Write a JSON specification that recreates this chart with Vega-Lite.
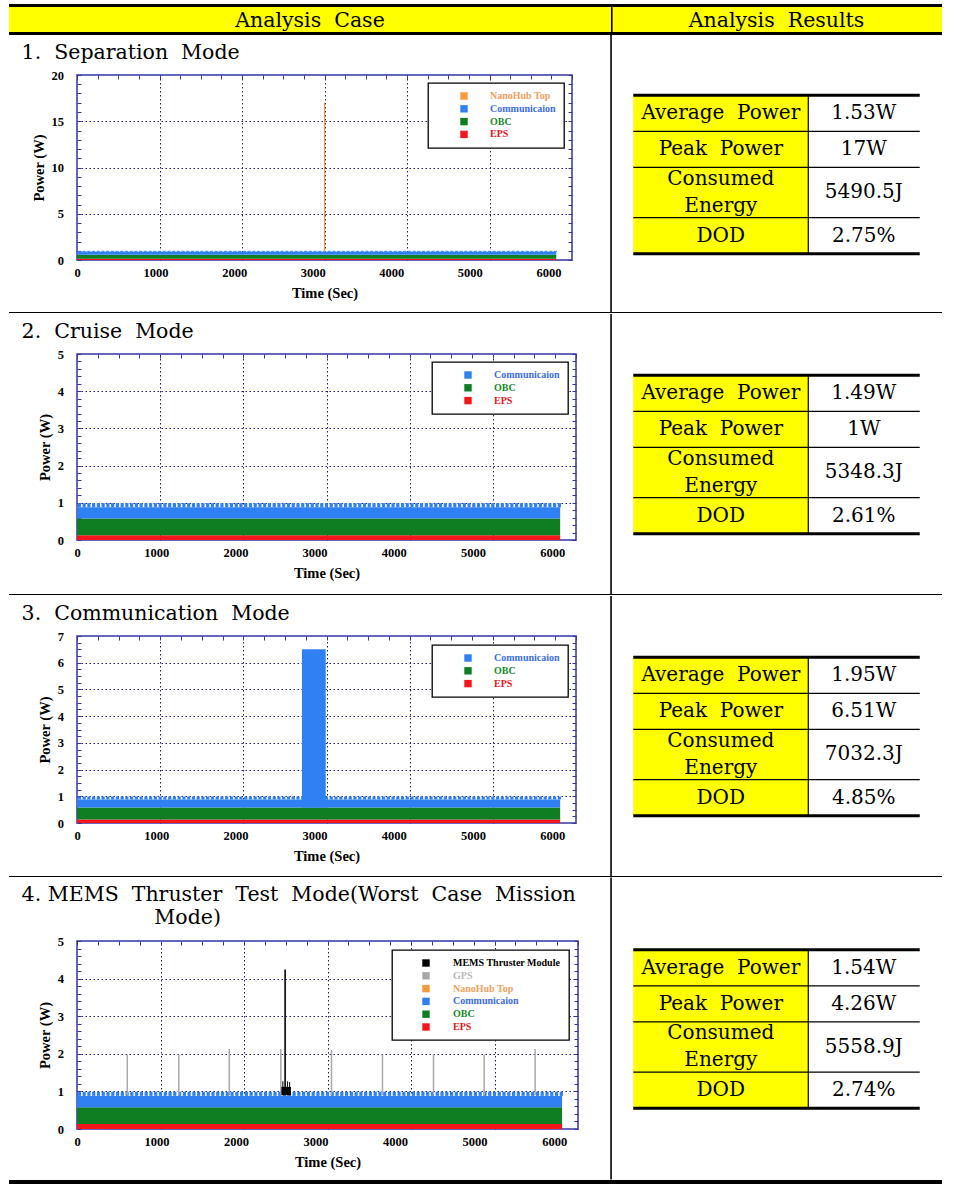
{
  "$schema": "https://vega.github.io/schema/vega-lite/v6.json",
  "padding": {"left": 8, "top": 4, "right": 0, "bottom": 0},
  "background": "white",
  "columns": 1,
  "spacing": 0,
  "resolve": {"scale": {"color": "independent"}, "legend": {"color": "independent"}},
  "datasets": {
    "base": [
      {"device": "EPS", "t0": 0, "t1": 6100, "lo": 0, "hi": 0.13},
      {"device": "OBC", "t0": 0, "t1": 6100, "lo": 0.13, "hi": 0.58},
      {"device": "Communicaion", "t0": 0, "t1": 6100, "lo": 0.58, "hi": 0.88}
    ],
    "teeth": [
      {"t":30,"lo":0.88,"hi":0.99},{"t":90,"lo":0.88,"hi":0.99},{"t":150,"lo":0.88,"hi":0.99},{"t":210,"lo":0.88,"hi":0.99},{"t":270,"lo":0.88,"hi":0.99},{"t":330,"lo":0.88,"hi":0.99},{"t":390,"lo":0.88,"hi":0.99},{"t":450,"lo":0.88,"hi":0.99},{"t":510,"lo":0.88,"hi":0.99},{"t":570,"lo":0.88,"hi":0.99},
      {"t":630,"lo":0.88,"hi":0.99},{"t":690,"lo":0.88,"hi":0.99},{"t":750,"lo":0.88,"hi":0.99},{"t":810,"lo":0.88,"hi":0.99},{"t":870,"lo":0.88,"hi":0.99},{"t":930,"lo":0.88,"hi":0.99},{"t":990,"lo":0.88,"hi":0.99},{"t":1050,"lo":0.88,"hi":0.99},{"t":1110,"lo":0.88,"hi":0.99},{"t":1170,"lo":0.88,"hi":0.99},
      {"t":1230,"lo":0.88,"hi":0.99},{"t":1290,"lo":0.88,"hi":0.99},{"t":1350,"lo":0.88,"hi":0.99},{"t":1410,"lo":0.88,"hi":0.99},{"t":1470,"lo":0.88,"hi":0.99},{"t":1530,"lo":0.88,"hi":0.99},{"t":1590,"lo":0.88,"hi":0.99},{"t":1650,"lo":0.88,"hi":0.99},{"t":1710,"lo":0.88,"hi":0.99},{"t":1770,"lo":0.88,"hi":0.99},
      {"t":1830,"lo":0.88,"hi":0.99},{"t":1890,"lo":0.88,"hi":0.99},{"t":1950,"lo":0.88,"hi":0.99},{"t":2010,"lo":0.88,"hi":0.99},{"t":2070,"lo":0.88,"hi":0.99},{"t":2130,"lo":0.88,"hi":0.99},{"t":2190,"lo":0.88,"hi":0.99},{"t":2250,"lo":0.88,"hi":0.99},{"t":2310,"lo":0.88,"hi":0.99},{"t":2370,"lo":0.88,"hi":0.99},
      {"t":2430,"lo":0.88,"hi":0.99},{"t":2490,"lo":0.88,"hi":0.99},{"t":2550,"lo":0.88,"hi":0.99},{"t":2610,"lo":0.88,"hi":0.99},{"t":2670,"lo":0.88,"hi":0.99},{"t":2730,"lo":0.88,"hi":0.99},{"t":2790,"lo":0.88,"hi":0.99},{"t":2850,"lo":0.88,"hi":0.99},{"t":2910,"lo":0.88,"hi":0.99},{"t":2970,"lo":0.88,"hi":0.99},
      {"t":3030,"lo":0.88,"hi":0.99},{"t":3090,"lo":0.88,"hi":0.99},{"t":3150,"lo":0.88,"hi":0.99},{"t":3210,"lo":0.88,"hi":0.99},{"t":3270,"lo":0.88,"hi":0.99},{"t":3330,"lo":0.88,"hi":0.99},{"t":3390,"lo":0.88,"hi":0.99},{"t":3450,"lo":0.88,"hi":0.99},{"t":3510,"lo":0.88,"hi":0.99},{"t":3570,"lo":0.88,"hi":0.99},
      {"t":3630,"lo":0.88,"hi":0.99},{"t":3690,"lo":0.88,"hi":0.99},{"t":3750,"lo":0.88,"hi":0.99},{"t":3810,"lo":0.88,"hi":0.99},{"t":3870,"lo":0.88,"hi":0.99},{"t":3930,"lo":0.88,"hi":0.99},{"t":3990,"lo":0.88,"hi":0.99},{"t":4050,"lo":0.88,"hi":0.99},{"t":4110,"lo":0.88,"hi":0.99},{"t":4170,"lo":0.88,"hi":0.99},
      {"t":4230,"lo":0.88,"hi":0.99},{"t":4290,"lo":0.88,"hi":0.99},{"t":4350,"lo":0.88,"hi":0.99},{"t":4410,"lo":0.88,"hi":0.99},{"t":4470,"lo":0.88,"hi":0.99},{"t":4530,"lo":0.88,"hi":0.99},{"t":4590,"lo":0.88,"hi":0.99},{"t":4650,"lo":0.88,"hi":0.99},{"t":4710,"lo":0.88,"hi":0.99},{"t":4770,"lo":0.88,"hi":0.99},
      {"t":4830,"lo":0.88,"hi":0.99},{"t":4890,"lo":0.88,"hi":0.99},{"t":4950,"lo":0.88,"hi":0.99},{"t":5010,"lo":0.88,"hi":0.99},{"t":5070,"lo":0.88,"hi":0.99},{"t":5130,"lo":0.88,"hi":0.99},{"t":5190,"lo":0.88,"hi":0.99},{"t":5250,"lo":0.88,"hi":0.99},{"t":5310,"lo":0.88,"hi":0.99},{"t":5370,"lo":0.88,"hi":0.99},
      {"t":5430,"lo":0.88,"hi":0.99},{"t":5490,"lo":0.88,"hi":0.99},{"t":5550,"lo":0.88,"hi":0.99},{"t":5610,"lo":0.88,"hi":0.99},{"t":5670,"lo":0.88,"hi":0.99},{"t":5730,"lo":0.88,"hi":0.99},{"t":5790,"lo":0.88,"hi":0.99},{"t":5850,"lo":0.88,"hi":0.99},{"t":5910,"lo":0.88,"hi":0.99},{"t":5970,"lo":0.88,"hi":0.99},
      {"t":6030,"lo":0.88,"hi":0.99},{"t":6090,"lo":0.88,"hi":0.99}
    ]
  },
  "concat": [
    {"width": 865, "height": 3, "data": {"values": [{}]}, "mark": {"type": "rect", "color": "#000"},
     "encoding": {"x": {"datum": -0.078613, "type": "quantitative", "scale": {"domain": [0, 1], "nice": false, "zero": false}, "axis": null}, "x2": {"datum": 1},
                  "y": {"datum": 0, "type": "quantitative", "scale": {"domain": [0, 1], "nice": false}, "axis": null}, "y2": {"datum": 1}}},
    {"concat": [
      {"width": 534, "height": 25, "data": {"values": [{"h": "Analysis\u00a0 Case"}]},
       "layer": [
         {"mark": {"type": "rect", "color": "#ffff00"},
          "encoding": {"x": {"datum": -0.127341, "type": "quantitative", "scale": {"domain": [0, 1], "nice": false, "zero": false}, "axis": null}, "x2": {"datum": 1},
                       "y": {"datum": 0, "type": "quantitative", "scale": {"domain": [0, 1], "nice": false}, "axis": null}, "y2": {"datum": 1}}},
         {"mark": {"type": "text", "font": "DejaVu Serif", "fontSize": 20.5, "color": "#000", "dy": 1.5},
          "encoding": {"x": {"datum": 0.43633, "type": "quantitative"}, "y": {"datum": 0.5, "type": "quantitative"}, "text": {"field": "h", "type": "nominal"}}}
       ]},
      {"width": 331, "height": 25, "view": {"fill": "#ffff00"}, "data": {"values": [{"h": "Analysis\u00a0 Results"}]},
       "layer": [
         {"mark": {"type": "text", "font": "DejaVu Serif", "fontSize": 20.5, "color": "#000", "dy": 1.5},
          "encoding": {"x": {"datum": 0.5, "type": "quantitative", "scale": {"domain": [0, 1], "nice": false, "zero": false}, "axis": null}, "y": {"datum": 0.5, "type": "quantitative", "scale": {"domain": [0, 1], "nice": false}, "axis": null}, "text": {"field": "h", "type": "nominal"}}},
         {"mark": {"type": "rect", "color": "#000"},
          "encoding": {"x": {"datum": 0, "type": "quantitative"}, "x2": {"datum": 0.0048}, "y": {"datum": 0, "type": "quantitative"}, "y2": {"datum": 1}}}
       ]}
    ], "spacing": 0},
    {"width": 865, "height": 3, "data": {"values": [{}]}, "mark": {"type": "rect", "color": "#000"},
     "encoding": {"x": {"datum": -0.078613, "type": "quantitative", "scale": {"domain": [0, 1], "nice": false, "zero": false}, "axis": null}, "x2": {"datum": 1},
                  "y": {"datum": 0, "type": "quantitative", "scale": {"domain": [0, 1], "nice": false}, "axis": null}, "y2": {"datum": 1}}},

    {"concat": [
      {
        "width": 495, "height": 185,
        "view": {"stroke": "#3434a4", "strokeWidth": 1.5},
        "title": {"text": "\u00a0", "fontSize": 3, "anchor": "start", "frame": "group", "dx": -66, "offset": 6,
          "subtitle": "\u200b\u00a0\u20091.\u00a0 Separation\u00a0 Mode", "subtitleFont": "DejaVu Serif", "subtitleFontSize": 20.5, "subtitleColor": "#000", "subtitlePadding": 0},
        "resolve": {"axis": {"x": "independent", "y": "independent"}},
        "layer": [
          {"data": {"name": "base"}, "mark": {"type": "rect"},
           "encoding": {
             "x": {"field": "t0", "type": "quantitative", "scale": {"domain": [0, 6300], "nice": false, "zero": false},
                   "axis": {"orient": "bottom", "values": [0,1000,2000,3000,4000,5000,6000], "tickCount": 100, "format": "d", "ticks": false, "grid": false, "labelPadding": 6, "title": "Time (Sec)", "titlePadding": 8}},
             "x2": {"field": "t1"},
             "y": {"field": "lo", "type": "quantitative", "scale": {"domain": [0, 20], "nice": false},
                   "axis": {"orient": "left", "values": [0,1,2,3,4,5,6,7,8,9,10,11,12,13,14,15,16,17,18,19,20], "tickCount": 100,
                            "labelExpr": "abs(datum.value / 5 - round(datum.value / 5)) < 0.001 ? format(datum.value, 'd') : ''", "grid": true,
                            "gridOpacity": {"condition": {"test": "abs(datum.value / 5 - round(datum.value / 5)) < 0.001 && datum.value > 0.01 && datum.value < 19.99", "value": 1}, "value": 0},
                            "labelPadding": 17.5, "title": "Power (W)", "titlePadding": 5}},
             "y2": {"field": "hi"},
             "color": {"field": "device", "type": "nominal",
                       "scale": {"domain": ["NanoHub Top", "Communicaion", "OBC", "EPS"], "range": ["#f39a3c", "#2f80f2", "#0f7d22", "#f5161c"]},
                       "legend": {"title": null, "labelColor": {"expr": "datum.value === 'EPS' ? '#e3141b' : datum.value === 'OBC' ? '#168a2c' : datum.value === 'Communicaion' ? '#3a6ee0' : datum.value === 'NanoHub Top' ? '#f0a060' : datum.value === 'GPS' ? '#b8b8b8' : '#000000'"}}}
           }},
          {"data": {"name": "teeth"}, "mark": {"type": "rule", "strokeWidth": 3.2, "color": "#2f80f2"},
           "encoding": {
             "x": {"field": "t", "type": "quantitative",
                   "axis": {"orient": "top", "values": [0,262.5,525,787.5,1050,1312.5,1575,1837.5,2100,2362.5,2625,2887.5,3150,3412.5,3675,3937.5,4200,4462.5,4725,4987.5,5250,5512.5,5775,6037.5,6300], "tickCount": 100,
                            "labels": false, "title": null, "grid": true,
                            "gridOpacity": {"condition": {"test": "abs(datum.value / 1050 - round(datum.value / 1050)) < 0.001 && datum.value > 1 && datum.value < 6299", "value": 1}, "value": 0}}},
             "y": {"field": "lo", "type": "quantitative",
                   "axis": {"orient": "right", "values": [0,1,2,3,4,5,6,7,8,9,10,11,12,13,14,15,16,17,18,19,20], "tickCount": 100, "labels": false, "title": null, "grid": false}},
             "y2": {"field": "hi"}
           }},
          {"data": {"values": [{"device": "NanoHub Top", "t": 3150, "lo": 0.9, "hi": 17}]},
           "mark": {"type": "rule", "strokeWidth": 1.2, "color": "#f39a3c"},
           "encoding": {"x": {"field": "t", "type": "quantitative", "axis": null}, "y": {"field": "lo", "type": "quantitative", "axis": null}, "y2": {"field": "hi"}}}
        ]
      },
      {
        "width": 331, "height": 237,
        "data": {"values": [
          {"metric": "Average\u00a0 Power", "result": "1.53W"},
          {"metric": "Peak\u00a0 Power", "result": "17W"},
          {"metric": "Consumed\nEnergy", "result": "5490.5J"},
          {"metric": "DOD", "result": "2.75%"}
        ]},
        "transform": [
          {"calculate": "indexof(datum.metric, '\\n') >= 0 ? 3.5 : 2.5", "as": "h"},
          {"window": [{"op": "sum", "field": "h", "as": "bottom"}], "frame": [null, 0]},
          {"calculate": "datum.bottom - datum.h", "as": "top"},
          {"calculate": "datum.bottom - datum.h / 2", "as": "mid"},
          {"calculate": "datum.mid - (datum.h - 2.5) * 0.9375", "as": "ty"}
        ],
        "layer": [
          {"mark": {"type": "rect", "color": "#ffff00"},
           "encoding": {"x": {"datum": 0.0695, "type": "quantitative", "scale": {"domain": [0, 1], "nice": false, "zero": false}, "axis": null}, "x2": {"datum": 0.598},
                        "y": {"field": "top", "type": "quantitative", "axis": null, "scale": {"domain": [-1.412, 15.051], "reverse": true, "nice": false, "zero": false}}, "y2": {"field": "bottom"}}},
          {"transform": [{"filter": "datum.metric === 'DOD'"}], "mark": {"type": "rect", "color": "#000"},
           "encoding": {"x": {"datum": 0, "type": "quantitative"}, "x2": {"datum": 0.0048}, "y": {"datum": -4.19, "type": "quantitative"}, "y2": {"datum": 15.051}}},
          {"mark": {"type": "rect", "color": "#000"},
           "encoding": {"x": {"datum": 0.5965, "type": "quantitative"}, "x2": {"datum": 0.6}, "y": {"field": "top", "type": "quantitative"}, "y2": {"field": "bottom"}}},
          {"mark": {"type": "rule", "color": "#000"},
           "encoding": {"x": {"datum": 0.0695, "type": "quantitative"}, "x2": {"datum": 0.935}, "y": {"field": "top", "type": "quantitative"},
                        "strokeWidth": {"condition": {"test": "indexof(datum.metric, 'Average') === 0", "value": 3}, "value": 1.2}}},
          {"transform": [{"filter": "datum.metric === 'DOD'"}], "mark": {"type": "rule", "color": "#000", "strokeWidth": 3},
           "encoding": {"x": {"datum": 0.0695, "type": "quantitative"}, "x2": {"datum": 0.935}, "y": {"field": "bottom", "type": "quantitative"}}},
          {"mark": {"type": "text", "font": "DejaVu Serif", "fontSize": 20, "lineBreak": "\n", "lineHeight": 27, "color": "#000"},
           "encoding": {"x": {"datum": 0.334, "type": "quantitative"}, "y": {"field": "ty", "type": "quantitative"}, "text": {"field": "metric", "type": "nominal"}}},
          {"mark": {"type": "text", "font": "DejaVu Serif", "fontSize": 20, "color": "#000"},
           "encoding": {"x": {"datum": 0.766, "type": "quantitative"}, "y": {"field": "mid", "type": "quantitative"}, "text": {"field": "result", "type": "nominal"}}}
        ]
      }
    ], "spacing": 36.25, "resolve": {"scale": {"color": "independent"}, "legend": {"color": "independent"}}},

    {"width": 865, "height": 1, "data": {"values": [{}]}, "mark": {"type": "rect", "color": "#000"},
     "encoding": {"x": {"datum": -0.078613, "type": "quantitative", "scale": {"domain": [0, 1], "nice": false, "zero": false}, "axis": null}, "x2": {"datum": 1},
                  "y": {"datum": 0, "type": "quantitative", "scale": {"domain": [0, 1], "nice": false}, "axis": null}, "y2": {"datum": 1}}},

    {"concat": [
      {
        "width": 499, "height": 186,
        "view": {"stroke": "#3434a4", "strokeWidth": 1.5},
        "title": {"text": "\u00a0", "fontSize": 3, "anchor": "start", "frame": "group", "dx": -66, "offset": 6,
          "subtitle": "\u200b\u00a0\u20092.\u00a0 Cruise\u00a0 Mode", "subtitleFont": "DejaVu Serif", "subtitleFontSize": 20.5, "subtitleColor": "#000", "subtitlePadding": 0},
        "resolve": {"axis": {"x": "independent", "y": "independent"}},
        "layer": [
          {"data": {"name": "base"}, "mark": {"type": "rect"},
           "encoding": {
             "x": {"field": "t0", "type": "quantitative", "scale": {"domain": [0, 6300], "nice": false, "zero": false},
                   "axis": {"orient": "bottom", "values": [0,1000,2000,3000,4000,5000,6000], "tickCount": 100, "format": "d", "ticks": false, "grid": false, "labelPadding": 6, "title": "Time (Sec)", "titlePadding": 8}},
             "x2": {"field": "t1"},
             "y": {"field": "lo", "type": "quantitative", "scale": {"domain": [0, 5], "nice": false},
                   "axis": {"orient": "left", "values": [0,0.2,0.4,0.6,0.8,1,1.2,1.4,1.6,1.8,2,2.2,2.4,2.6,2.8,3,3.2,3.4,3.6,3.8,4,4.2,4.4,4.6,4.8,5], "tickCount": 100,
                            "labelExpr": "abs(datum.value - round(datum.value)) < 0.001 ? format(datum.value, 'd') : ''", "grid": true,
                            "gridOpacity": {"condition": {"test": "abs(datum.value - round(datum.value)) < 0.001 && datum.value > 0.01 && datum.value < 4.99", "value": 1}, "value": 0},
                            "labelPadding": 17.5, "title": "Power (W)", "titlePadding": 5}},
             "y2": {"field": "hi"},
             "color": {"field": "device", "type": "nominal",
                       "scale": {"domain": ["Communicaion", "OBC", "EPS"], "range": ["#2f80f2", "#0f7d22", "#f5161c"]},
                       "legend": {"title": null, "labelColor": {"expr": "datum.value === 'EPS' ? '#e3141b' : datum.value === 'OBC' ? '#168a2c' : datum.value === 'Communicaion' ? '#3a6ee0' : datum.value === 'NanoHub Top' ? '#f0a060' : datum.value === 'GPS' ? '#b8b8b8' : '#000000'"}}}
           }},
          {"data": {"name": "teeth"}, "mark": {"type": "rule", "strokeWidth": 3.2, "color": "#2f80f2"},
           "encoding": {
             "x": {"field": "t", "type": "quantitative",
                   "axis": {"orient": "top", "values": [0,262.5,525,787.5,1050,1312.5,1575,1837.5,2100,2362.5,2625,2887.5,3150,3412.5,3675,3937.5,4200,4462.5,4725,4987.5,5250,5512.5,5775,6037.5,6300], "tickCount": 100,
                            "labels": false, "title": null, "grid": true,
                            "gridOpacity": {"condition": {"test": "abs(datum.value / 1050 - round(datum.value / 1050)) < 0.001 && datum.value > 1 && datum.value < 6299", "value": 1}, "value": 0}}},
             "y": {"field": "lo", "type": "quantitative",
                   "axis": {"orient": "right", "values": [0,0.2,0.4,0.6,0.8,1,1.2,1.4,1.6,1.8,2,2.2,2.4,2.6,2.8,3,3.2,3.4,3.6,3.8,4,4.2,4.4,4.6,4.8,5], "tickCount": 100, "labels": false, "title": null, "grid": false}},
             "y2": {"field": "hi"}
           }}
        ]
      },
      {
        "width": 331, "height": 240,
        "data": {"values": [
          {"metric": "Average\u00a0 Power", "result": "1.49W"},
          {"metric": "Peak\u00a0 Power", "result": "1W"},
          {"metric": "Consumed\nEnergy", "result": "5348.3J"},
          {"metric": "DOD", "result": "2.61%"}
        ]},
        "transform": [
          {"calculate": "indexof(datum.metric, '\\n') >= 0 ? 3.5 : 2.5", "as": "h"},
          {"window": [{"op": "sum", "field": "h", "as": "bottom"}], "frame": [null, 0]},
          {"calculate": "datum.bottom - datum.h", "as": "top"},
          {"calculate": "datum.bottom - datum.h / 2", "as": "mid"},
          {"calculate": "datum.mid - (datum.h - 2.5) * 0.9375", "as": "ty"}
        ],
        "layer": [
          {"mark": {"type": "rect", "color": "#ffff00"},
           "encoding": {"x": {"datum": 0.0695, "type": "quantitative", "scale": {"domain": [0, 1], "nice": false, "zero": false}, "axis": null}, "x2": {"datum": 0.598},
                        "y": {"field": "top", "type": "quantitative", "axis": null, "scale": {"domain": [-1.479, 15.188], "reverse": true, "nice": false, "zero": false}}, "y2": {"field": "bottom"}}},
          {"transform": [{"filter": "datum.metric === 'DOD'"}], "mark": {"type": "rect", "color": "#000"},
           "encoding": {"x": {"datum": 0, "type": "quantitative"}, "x2": {"datum": 0.0048}, "y": {"datum": -4.257, "type": "quantitative"}, "y2": {"datum": 15.188}}},
          {"mark": {"type": "rect", "color": "#000"},
           "encoding": {"x": {"datum": 0.5965, "type": "quantitative"}, "x2": {"datum": 0.6}, "y": {"field": "top", "type": "quantitative"}, "y2": {"field": "bottom"}}},
          {"mark": {"type": "rule", "color": "#000"},
           "encoding": {"x": {"datum": 0.0695, "type": "quantitative"}, "x2": {"datum": 0.935}, "y": {"field": "top", "type": "quantitative"},
                        "strokeWidth": {"condition": {"test": "indexof(datum.metric, 'Average') === 0", "value": 3}, "value": 1.2}}},
          {"transform": [{"filter": "datum.metric === 'DOD'"}], "mark": {"type": "rule", "color": "#000", "strokeWidth": 3},
           "encoding": {"x": {"datum": 0.0695, "type": "quantitative"}, "x2": {"datum": 0.935}, "y": {"field": "bottom", "type": "quantitative"}}},
          {"mark": {"type": "text", "font": "DejaVu Serif", "fontSize": 20, "lineBreak": "\n", "lineHeight": 27, "color": "#000"},
           "encoding": {"x": {"datum": 0.334, "type": "quantitative"}, "y": {"field": "ty", "type": "quantitative"}, "text": {"field": "metric", "type": "nominal"}}},
          {"mark": {"type": "text", "font": "DejaVu Serif", "fontSize": 20, "color": "#000"},
           "encoding": {"x": {"datum": 0.766, "type": "quantitative"}, "y": {"field": "mid", "type": "quantitative"}, "text": {"field": "result", "type": "nominal"}}}
        ]
      }
    ], "spacing": 32.25, "resolve": {"scale": {"color": "independent"}, "legend": {"color": "independent"}}},

    {"width": 865, "height": 1, "data": {"values": [{}]}, "mark": {"type": "rect", "color": "#000"},
     "encoding": {"x": {"datum": -0.078613, "type": "quantitative", "scale": {"domain": [0, 1], "nice": false, "zero": false}, "axis": null}, "x2": {"datum": 1},
                  "y": {"datum": 0, "type": "quantitative", "scale": {"domain": [0, 1], "nice": false}, "axis": null}, "y2": {"datum": 1}}},

    {"concat": [
      {
        "width": 499, "height": 187,
        "view": {"stroke": "#3434a4", "strokeWidth": 1.5},
        "title": {"text": "\u00a0", "fontSize": 3, "anchor": "start", "frame": "group", "dx": -66, "offset": 6,
          "subtitle": "\u200b\u00a0\u20093.\u00a0 Communication\u00a0 Mode", "subtitleFont": "DejaVu Serif", "subtitleFontSize": 20.5, "subtitleColor": "#000", "subtitlePadding": 0},
        "resolve": {"axis": {"x": "independent", "y": "independent"}},
        "layer": [
          {"data": {"name": "base"}, "mark": {"type": "rect"},
           "encoding": {
             "x": {"field": "t0", "type": "quantitative", "scale": {"domain": [0, 6300], "nice": false, "zero": false},
                   "axis": {"orient": "bottom", "values": [0,1000,2000,3000,4000,5000,6000], "tickCount": 100, "format": "d", "ticks": false, "grid": false, "labelPadding": 6, "title": "Time (Sec)", "titlePadding": 8}},
             "x2": {"field": "t1"},
             "y": {"field": "lo", "type": "quantitative", "scale": {"domain": [0, 7], "nice": false},
                   "axis": {"orient": "left", "values": [0,0.25,0.5,0.75,1,1.25,1.5,1.75,2,2.25,2.5,2.75,3,3.25,3.5,3.75,4,4.25,4.5,4.75,5,5.25,5.5,5.75,6,6.25,6.5,6.75,7], "tickCount": 100,
                            "labelExpr": "abs(datum.value - round(datum.value)) < 0.001 ? format(datum.value, 'd') : ''", "grid": true,
                            "gridOpacity": {"condition": {"test": "abs(datum.value - round(datum.value)) < 0.001 && datum.value > 0.01 && datum.value < 6.99", "value": 1}, "value": 0},
                            "labelPadding": 17.5, "title": "Power (W)", "titlePadding": 5}},
             "y2": {"field": "hi"},
             "color": {"field": "device", "type": "nominal",
                       "scale": {"domain": ["Communicaion", "OBC", "EPS"], "range": ["#2f80f2", "#0f7d22", "#f5161c"]},
                       "legend": {"title": null, "offset": 8.5, "labelColor": {"expr": "datum.value === 'EPS' ? '#e3141b' : datum.value === 'OBC' ? '#168a2c' : datum.value === 'Communicaion' ? '#3a6ee0' : datum.value === 'NanoHub Top' ? '#f0a060' : datum.value === 'GPS' ? '#b8b8b8' : '#000000'"}}}
           }},
          {"data": {"name": "teeth"}, "mark": {"type": "rule", "strokeWidth": 3.2, "color": "#2f80f2"},
           "encoding": {
             "x": {"field": "t", "type": "quantitative",
                   "axis": {"orient": "top", "values": [0,262.5,525,787.5,1050,1312.5,1575,1837.5,2100,2362.5,2625,2887.5,3150,3412.5,3675,3937.5,4200,4462.5,4725,4987.5,5250,5512.5,5775,6037.5,6300], "tickCount": 100,
                            "labels": false, "title": null, "grid": true,
                            "gridOpacity": {"condition": {"test": "abs(datum.value / 1050 - round(datum.value / 1050)) < 0.001 && datum.value > 1 && datum.value < 6299", "value": 1}, "value": 0}}},
             "y": {"field": "lo", "type": "quantitative",
                   "axis": {"orient": "right", "values": [0,0.25,0.5,0.75,1,1.25,1.5,1.75,2,2.25,2.5,2.75,3,3.25,3.5,3.75,4,4.25,4.5,4.75,5,5.25,5.5,5.75,6,6.25,6.5,6.75,7], "tickCount": 100, "labels": false, "title": null, "grid": false}},
             "y2": {"field": "hi"}
           }},
          {"data": {"values": [{"device": "Communicaion", "t0": 2840, "t1": 3140, "lo": 0.58, "hi": 6.5}]},
           "mark": {"type": "rect", "color": "#2f80f2"},
           "encoding": {"x": {"field": "t0", "type": "quantitative", "axis": null}, "x2": {"field": "t1"}, "y": {"field": "lo", "type": "quantitative", "axis": null}, "y2": {"field": "hi"}}}
        ]
      },
      {
        "width": 331, "height": 240,
        "data": {"values": [
          {"metric": "Average\u00a0 Power", "result": "1.95W"},
          {"metric": "Peak\u00a0 Power", "result": "6.51W"},
          {"metric": "Consumed\nEnergy", "result": "7032.3J"},
          {"metric": "DOD", "result": "4.85%"}
        ]},
        "transform": [
          {"calculate": "indexof(datum.metric, '\\n') >= 0 ? 3.5 : 2.5", "as": "h"},
          {"window": [{"op": "sum", "field": "h", "as": "bottom"}], "frame": [null, 0]},
          {"calculate": "datum.bottom - datum.h", "as": "top"},
          {"calculate": "datum.bottom - datum.h / 2", "as": "mid"},
          {"calculate": "datum.mid - (datum.h - 2.5) * 0.9375", "as": "ty"}
        ],
        "layer": [
          {"mark": {"type": "rect", "color": "#ffff00"},
           "encoding": {"x": {"datum": 0.0695, "type": "quantitative", "scale": {"domain": [0, 1], "nice": false, "zero": false}, "axis": null}, "x2": {"datum": 0.598},
                        "y": {"field": "top", "type": "quantitative", "axis": null, "scale": {"domain": [-1.479, 15.188], "reverse": true, "nice": false, "zero": false}}, "y2": {"field": "bottom"}}},
          {"transform": [{"filter": "datum.metric === 'DOD'"}], "mark": {"type": "rect", "color": "#000"},
           "encoding": {"x": {"datum": 0, "type": "quantitative"}, "x2": {"datum": 0.0048}, "y": {"datum": -4.257, "type": "quantitative"}, "y2": {"datum": 15.188}}},
          {"mark": {"type": "rect", "color": "#000"},
           "encoding": {"x": {"datum": 0.5965, "type": "quantitative"}, "x2": {"datum": 0.6}, "y": {"field": "top", "type": "quantitative"}, "y2": {"field": "bottom"}}},
          {"mark": {"type": "rule", "color": "#000"},
           "encoding": {"x": {"datum": 0.0695, "type": "quantitative"}, "x2": {"datum": 0.935}, "y": {"field": "top", "type": "quantitative"},
                        "strokeWidth": {"condition": {"test": "indexof(datum.metric, 'Average') === 0", "value": 3}, "value": 1.2}}},
          {"transform": [{"filter": "datum.metric === 'DOD'"}], "mark": {"type": "rule", "color": "#000", "strokeWidth": 3},
           "encoding": {"x": {"datum": 0.0695, "type": "quantitative"}, "x2": {"datum": 0.935}, "y": {"field": "bottom", "type": "quantitative"}}},
          {"mark": {"type": "text", "font": "DejaVu Serif", "fontSize": 20, "lineBreak": "\n", "lineHeight": 27, "color": "#000"},
           "encoding": {"x": {"datum": 0.334, "type": "quantitative"}, "y": {"field": "ty", "type": "quantitative"}, "text": {"field": "metric", "type": "nominal"}}},
          {"mark": {"type": "text", "font": "DejaVu Serif", "fontSize": 20, "color": "#000"},
           "encoding": {"x": {"datum": 0.766, "type": "quantitative"}, "y": {"field": "mid", "type": "quantitative"}, "text": {"field": "result", "type": "nominal"}}}
        ]
      }
    ], "spacing": 32.25, "resolve": {"scale": {"color": "independent"}, "legend": {"color": "independent"}}},

    {"width": 865, "height": 1, "data": {"values": [{}]}, "mark": {"type": "rect", "color": "#000"},
     "encoding": {"x": {"datum": -0.078613, "type": "quantitative", "scale": {"domain": [0, 1], "nice": false, "zero": false}, "axis": null}, "x2": {"datum": 1},
                  "y": {"datum": 0, "type": "quantitative", "scale": {"domain": [0, 1], "nice": false}, "axis": null}, "y2": {"datum": 1}}},

    {"concat": [
      {
        "width": 501, "height": 188,
        "view": {"stroke": "#3434a4", "strokeWidth": 1.5},
        "title": {"text": "\u00a0", "fontSize": 3, "anchor": "start", "frame": "group", "dx": -66, "offset": 6,
          "subtitle": ["\u200b\u00a0\u20094. MEMS\u00a0 Thruster\u00a0 Test\u00a0 Mode(Worst\u00a0 Case\u00a0 Mission", "\u200b\u00a0\u00a0\u00a0\u00a0\u00a0\u00a0\u00a0\u00a0\u00a0\u00a0\u00a0\u00a0\u00a0\u00a0\u00a0\u00a0\u00a0\u00a0\u00a0\u00a0\u00a0\u00a0Mode)"],
          "subtitleFont": "DejaVu Serif", "subtitleFontSize": 20.5, "subtitleLineHeight": 23.4, "subtitleColor": "#000", "subtitlePadding": 0},
        "resolve": {"axis": {"x": "independent", "y": "independent"}},
        "layer": [
          {"data": {"name": "base"}, "mark": {"type": "rect"},
           "encoding": {
             "x": {"field": "t0", "type": "quantitative", "scale": {"domain": [0, 6300], "nice": false, "zero": false},
                   "axis": {"orient": "bottom", "values": [0,1000,2000,3000,4000,5000,6000], "tickCount": 100, "format": "d", "ticks": false, "grid": false, "labelPadding": 6, "title": "Time (Sec)", "titlePadding": 8}},
             "x2": {"field": "t1"},
             "y": {"field": "lo", "type": "quantitative", "scale": {"domain": [0, 5], "nice": false},
                   "axis": {"orient": "left", "values": [0,0.2,0.4,0.6,0.8,1,1.2,1.4,1.6,1.8,2,2.2,2.4,2.6,2.8,3,3.2,3.4,3.6,3.8,4,4.2,4.4,4.6,4.8,5], "tickCount": 100,
                            "labelExpr": "abs(datum.value - round(datum.value)) < 0.001 ? format(datum.value, 'd') : ''", "grid": true,
                            "gridOpacity": {"condition": {"test": "abs(datum.value - round(datum.value)) < 0.001 && datum.value > 0.01 && datum.value < 4.99", "value": 1}, "value": 0},
                            "labelPadding": 17.5, "title": "Power (W)", "titlePadding": 5}},
             "y2": {"field": "hi"},
             "color": {"field": "device", "type": "nominal",
                       "scale": {"domain": ["MEMS Thruster Module", "GPS", "NanoHub Top", "Communicaion", "OBC", "EPS"], "range": ["#000000", "#a9a9a9", "#f39a3c", "#2f80f2", "#0f7d22", "#f5161c"]},
                       "legend": {"title": null, "offset": 9, "symbolOffset": 21, "labelOffset": 22, "labelColor": {"expr": "datum.value === 'EPS' ? '#e3141b' : datum.value === 'OBC' ? '#168a2c' : datum.value === 'Communicaion' ? '#3a6ee0' : datum.value === 'NanoHub Top' ? '#f0a060' : datum.value === 'GPS' ? '#b8b8b8' : '#000000'"}}}
           }},
          {"data": {"name": "teeth"}, "mark": {"type": "rule", "strokeWidth": 3.2, "color": "#2f80f2"},
           "encoding": {
             "x": {"field": "t", "type": "quantitative",
                   "axis": {"orient": "top", "values": [0,262.5,525,787.5,1050,1312.5,1575,1837.5,2100,2362.5,2625,2887.5,3150,3412.5,3675,3937.5,4200,4462.5,4725,4987.5,5250,5512.5,5775,6037.5,6300], "tickCount": 100,
                            "labels": false, "title": null, "grid": true,
                            "gridOpacity": {"condition": {"test": "abs(datum.value / 1050 - round(datum.value / 1050)) < 0.001 && datum.value > 1 && datum.value < 6299", "value": 1}, "value": 0}}},
             "y": {"field": "lo", "type": "quantitative",
                   "axis": {"orient": "right", "values": [0,0.2,0.4,0.6,0.8,1,1.2,1.4,1.6,1.8,2,2.2,2.4,2.6,2.8,3,3.2,3.4,3.6,3.8,4,4.2,4.4,4.6,4.8,5], "tickCount": 100, "labels": false, "title": null, "grid": false}},
             "y2": {"field": "hi"}
           }},
          {"data": {"values": [
             {"device": "GPS", "t": 632, "lo": 0.9, "hi": 1.98},
             {"device": "GPS", "t": 1280, "lo": 0.9, "hi": 1.98},
             {"device": "GPS", "t": 1915, "lo": 0.9, "hi": 2.13},
             {"device": "GPS", "t": 2563, "lo": 0.9, "hi": 2.13},
             {"device": "GPS", "t": 3200, "lo": 0.9, "hi": 2.1},
             {"device": "GPS", "t": 3841, "lo": 0.9, "hi": 1.98},
             {"device": "GPS", "t": 4483, "lo": 0.9, "hi": 1.98},
             {"device": "GPS", "t": 5120, "lo": 0.9, "hi": 1.98},
             {"device": "GPS", "t": 5761, "lo": 0.9, "hi": 2.13}
           ]},
           "mark": {"type": "rule", "strokeWidth": 1.5, "color": "#a9a9a9"},
           "encoding": {"x": {"field": "t", "type": "quantitative", "axis": null}, "y": {"field": "lo", "type": "quantitative", "axis": null}, "y2": {"field": "hi"}}},
          {"data": {"values": [
             {"device": "MEMS Thruster Module", "t0": 2570, "t1": 2690, "lo": 0.9, "hi": 1.12},
             {"device": "MEMS Thruster Module", "t0": 2582, "t1": 2595, "lo": 0.9, "hi": 1.27},
             {"device": "MEMS Thruster Module", "t0": 2607, "t1": 2627, "lo": 0.9, "hi": 4.24},
             {"device": "MEMS Thruster Module", "t0": 2640, "t1": 2652, "lo": 0.9, "hi": 1.27},
             {"device": "MEMS Thruster Module", "t0": 2668, "t1": 2680, "lo": 0.9, "hi": 1.25}
           ]},
           "mark": {"type": "rect", "color": "#000000"},
           "encoding": {"x": {"field": "t0", "type": "quantitative", "axis": null}, "x2": {"field": "t1"}, "y": {"field": "lo", "type": "quantitative", "axis": null}, "y2": {"field": "hi"}}}
        ]
      },
      {
        "width": 331, "height": 238.5,
        "data": {"values": [
          {"metric": "Average\u00a0 Power", "result": "1.54W"},
          {"metric": "Peak\u00a0 Power", "result": "4.26W"},
          {"metric": "Consumed\nEnergy", "result": "5558.9J"},
          {"metric": "DOD", "result": "2.74%"}
        ]},
        "transform": [
          {"calculate": "indexof(datum.metric, '\\n') >= 0 ? 3.5 : 2.5", "as": "h"},
          {"window": [{"op": "sum", "field": "h", "as": "bottom"}], "frame": [null, 0]},
          {"calculate": "datum.bottom - datum.h", "as": "top"},
          {"calculate": "datum.bottom - datum.h / 2", "as": "mid"},
          {"calculate": "datum.mid - (datum.h - 2.5) * 0.9375", "as": "ty"}
        ],
        "layer": [
          {"mark": {"type": "rect", "color": "#ffff00"},
           "encoding": {"x": {"datum": 0.0695, "type": "quantitative", "scale": {"domain": [0, 1], "nice": false, "zero": false}, "axis": null}, "x2": {"datum": 0.598},
                        "y": {"field": "top", "type": "quantitative", "axis": null, "scale": {"domain": [-0.61, 15.951], "reverse": true, "nice": false, "zero": false}}, "y2": {"field": "bottom"}}},
          {"transform": [{"filter": "datum.metric === 'DOD'"}], "mark": {"type": "rect", "color": "#000"},
           "encoding": {"x": {"datum": 0, "type": "quantitative"}, "x2": {"datum": 0.0048}, "y": {"datum": -5.02, "type": "quantitative"}, "y2": {"datum": 15.951}}},
          {"mark": {"type": "rect", "color": "#000"},
           "encoding": {"x": {"datum": 0.5965, "type": "quantitative"}, "x2": {"datum": 0.6}, "y": {"field": "top", "type": "quantitative"}, "y2": {"field": "bottom"}}},
          {"mark": {"type": "rule", "color": "#000"},
           "encoding": {"x": {"datum": 0.0695, "type": "quantitative"}, "x2": {"datum": 0.935}, "y": {"field": "top", "type": "quantitative"},
                        "strokeWidth": {"condition": {"test": "indexof(datum.metric, 'Average') === 0", "value": 3}, "value": 1.2}}},
          {"transform": [{"filter": "datum.metric === 'DOD'"}], "mark": {"type": "rule", "color": "#000", "strokeWidth": 3},
           "encoding": {"x": {"datum": 0.0695, "type": "quantitative"}, "x2": {"datum": 0.935}, "y": {"field": "bottom", "type": "quantitative"}}},
          {"mark": {"type": "text", "font": "DejaVu Serif", "fontSize": 20, "lineBreak": "\n", "lineHeight": 27, "color": "#000"},
           "encoding": {"x": {"datum": 0.334, "type": "quantitative"}, "y": {"field": "ty", "type": "quantitative"}, "text": {"field": "metric", "type": "nominal"}}},
          {"mark": {"type": "text", "font": "DejaVu Serif", "fontSize": 20, "color": "#000"},
           "encoding": {"x": {"datum": 0.766, "type": "quantitative"}, "y": {"field": "mid", "type": "quantitative"}, "text": {"field": "result", "type": "nominal"}}}
        ]
      }
    ], "spacing": 30.25, "resolve": {"scale": {"color": "independent"}, "legend": {"color": "independent"}}},

    {"width": 865, "height": 4, "data": {"values": [{}]}, "mark": {"type": "rect", "color": "#000"},
     "encoding": {"x": {"datum": -0.078613, "type": "quantitative", "scale": {"domain": [0, 1], "nice": false, "zero": false}, "axis": null}, "x2": {"datum": 1},
                  "y": {"datum": 0, "type": "quantitative", "scale": {"domain": [0, 1], "nice": false}, "axis": null}, "y2": {"datum": 1}}}
  ],
  "config": {
    "view": {"stroke": null},
    "axis": {
      "labelFont": "Liberation Serif", "labelFontWeight": "bold", "labelFontSize": 12.5, "labelColor": "#000",
      "titleFont": "Liberation Serif", "titleFontWeight": "bold", "titleFontSize": 14.5, "titleColor": "#000",
      "tickColor": "#3434a4", "tickSize": -4, "tickWidth": 1,
      "gridColor": "#1e1e78", "gridDash": [1.5, 2.5], "gridWidth": 1,
      "domain": false, "labelFlush": false, "labelOverlap": false, "labelBound": false
    },
    "legend": {
      "orient": "top-right", "offset": 8, "strokeColor": "#000", "strokeWidth": 1.3, "fillColor": "#fff",
      "padding": 8, "symbolType": "square", "symbolSize": 55, "symbolStrokeWidth": 0, "symbolOffset": 23,
      "labelOffset": 21, "labelFont": "Liberation Serif", "labelFontWeight": "bold", "labelFontSize": 10,
      "rowPadding": 2.8, "labelLimit": 300
    }
  }
}
